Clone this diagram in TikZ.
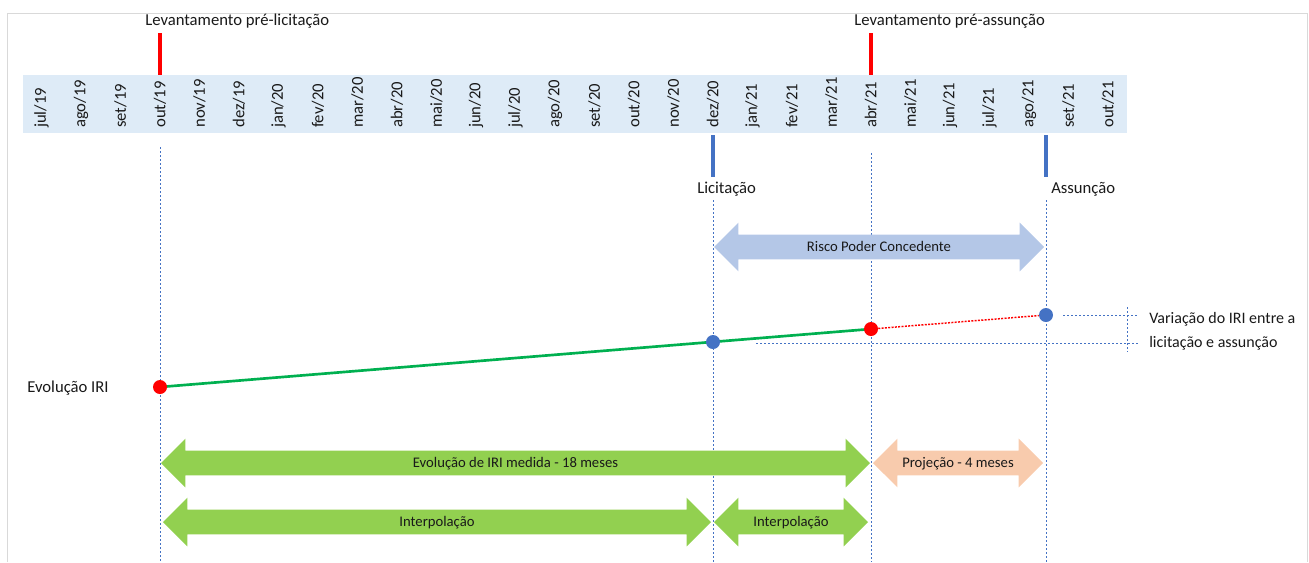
\documentclass[tikz,border=0pt]{standalone}
\usepackage{fontspec}
\setmainfont{Carlito}
\usetikzlibrary{shapes.arrows,backgrounds}
\definecolor{banda}{HTML}{DEEBF7}
\definecolor{vermelho}{HTML}{FF0000}
\definecolor{azul}{HTML}{4472C4}
\definecolor{verdeclaro}{HTML}{92D050}
\definecolor{verdelinha}{HTML}{00B050}
\definecolor{laranja}{HTML}{F8CBAD}
\definecolor{azulseta}{HTML}{B4C7E7}
\begin{document}
\begin{tikzpicture}[x=0.75pt,y=-0.75pt,font=\fontsize{12.5}{15}\selectfont]
% Estilos
\tikzstyle{texto}=[inner sep=0pt,text=black!90]
\tikzstyle{mes}=[texto,rotate=90,anchor=west]
\tikzstyle{marcoV}=[line width=3pt,vermelho]
\tikzstyle{marcoA}=[line width=3pt,azul]
\tikzstyle{guia}=[azul,line width=0.75pt,dash pattern=on 1.6pt off 1.4pt]
\tikzstyle{ponto}=[circle,minimum size=10.5pt,inner sep=0pt]
\tikzstyle{seta}=[double arrow,double arrow head extend=9pt,minimum width=36pt,inner xsep=0pt,inner ysep=4pt,text height=8pt,text depth=2pt,text=black!90,font=\fontsize{11}{13}\selectfont]
\tikzstyle{moldura}=[gray!30,line width=0.75pt]
% Dimensoes
\def\Origem{41.5}
\def\Largura{39.5}
\def\XLevA{(\Origem+3*\Largura)}
\def\XLic{(\Origem+17*\Largura)}
\def\XLevB{(\Origem+21*\Largura)}
\def\XAss{(\Origem+25.43*\Largura)}
\def\Seta#1#2#3#4#5#6{\node[seta,fill=#5,minimum height={((#3)-(#2))*0.75pt}] (#1) at ({((#2)+(#3))/2},#4) {#6};}
\useasboundingbox (0,0) rectangle (1309,562);
\draw[moldura] (7,562) |- (1307,13) -- (1307,562);
% Faixa dos meses
\fill[banda] (23,75) rectangle (1127,133);
\foreach \m/\a [count=\i from 0] in {jul/19,ago/19,set/19,out/19,nov/19,dez/19,jan/20,fev/20,mar/20,abr/20,mai/20,jun/20,jul/20,ago/20,set/20,out/20,nov/20,dez/20,jan/21,fev/21,mar/21,abr/21,mai/21,jun/21,jul/21,ago/21,set/21,out/21}
  \node[mes] (mes\i) at ({\Origem+\i*\Largura},128) {\m/\a};
% Marcos
\coordinate (levA1) at ({\XLevA},33);
\coordinate (levA2) at ({\XLevA},75);
\coordinate (levB1) at ({\XLevB},33);
\coordinate (levB2) at ({\XLevB},75);
\coordinate (lic1) at ({\XLic},135);
\coordinate (lic2) at ({\XLic},177);
\coordinate (ass1) at ({\XAss},135);
\coordinate (ass2) at ({\XAss},177);
\draw[marcoV] (levA1)--(levA2);
\draw[marcoV] (levB1)--(levB2);
\draw[marcoA] (lic1)--(lic2);
\draw[marcoA] (ass1)--(ass2);
\node[texto,anchor=west] (tLevA) at (145,21) {Levantamento pré-licitação};
\node[texto,anchor=west] (tLevB) at (854,21) {Levantamento pré-assunção};
\node[texto,anchor=west] (tLic) at (697,189) {Licitação};
\node[texto,anchor=west] (tAss) at (1051,189) {Assunção};
% Guias
\coordinate (gA1) at ({\XLevA},147);
\coordinate (gA2) at ({\XLevA},562);
\coordinate (gB1) at ({\XLic},200);
\coordinate (gB2) at ({\XLic},562);
\coordinate (gC1) at ({\XLevB},153);
\coordinate (gC2) at ({\XLevB},562);
\coordinate (gD1) at ({\XAss},200);
\coordinate (gD2) at ({\XAss},562);
\draw[guia] (gA1)--(gA2);
\draw[guia] (gB1)--(gB2);
\draw[guia] (gC1)--(gC2);
\draw[guia] (gD1)--(gD2);
% Setas
\Seta{risco}{714}{1044}{247}{azulseta}{Risco Poder Concedente}
\Seta{evol}{161}{870}{463}{verdeclaro}{Evolução de IRI medida - 18 meses}
\Seta{proj}{873}{1043}{463}{laranja}{Projeção - 4 meses}
\Seta{interA}{163}{711}{522}{verdeclaro}{Interpolação}
\Seta{interB}{714}{868}{522}{verdeclaro}{Interpolação}
% Evolucao IRI
\node[texto,anchor=west] (tIRI) at (27,388) {Evolução IRI};
\node[ponto,fill=vermelho] (p1) at ({\XLevA},387) {};
\node[ponto,fill=azul] (p2) at ({\XLic},342) {};
\node[ponto,fill=vermelho] (p3) at ({\XLevB},329) {};
\node[ponto,fill=azul] (p4) at ({\XAss},315) {};
\begin{pgfonlayer}{background}
\draw[verdelinha,line width=2pt] (p1.center)--(p3.center);
\end{pgfonlayer}
\draw[vermelho,line width=1.1pt,dash pattern=on 1.5pt off 1pt] (p3)--(p4);
% Variacao
\coordinate (vA1) at (1063,315);
\coordinate (vA2) at (1138,315);
\coordinate (vB1) at (756,343);
\coordinate (vB2) at (1138,343);
\coordinate (vC1) at (1127,307);
\coordinate (vC2) at (1127,352);
\draw[guia] (vA1)--(vA2);
\draw[guia] (vB1)--(vB2);
\draw[guia] (vC1)--(vC2);
\node[texto,anchor=west,align=left,font=\fontsize{12}{18}\selectfont] (tVar) at (1149,331) {Variação do IRI entre a\\licitação e assunção};
\end{tikzpicture}
\end{document}
